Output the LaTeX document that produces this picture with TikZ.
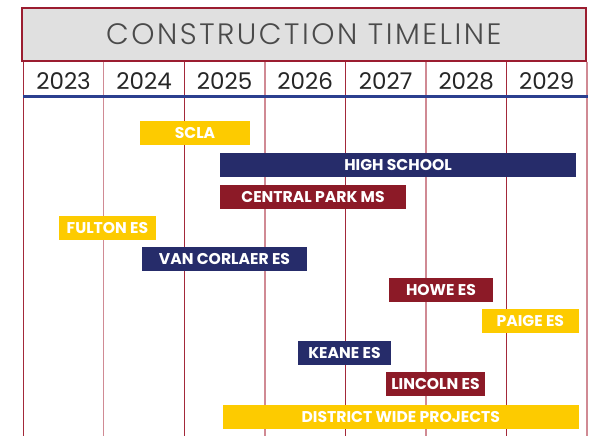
\documentclass[tikz,border=0pt]{standalone}
\usepackage{fontspec}
\setmainfont{Poppins}
\IfFontExistsTF{Poppins Light}{\newfontfamily\titlefont[LetterSpace=8.5]{Poppins Light}}{\newfontfamily\titlefont[LetterSpace=8.5]{Poppins}}
\definecolor{frame}{HTML}{9B1D30}
\definecolor{titlebg}{HTML}{E0E0E0}
\definecolor{titletext}{HTML}{4A4A4A}
\definecolor{gold}{HTML}{FDCB00}
\definecolor{navy}{HTML}{262C6A}
\definecolor{maroon}{HTML}{8C1A27}
\definecolor{rule}{HTML}{2B3F8F}
\definecolor{vdark}{HTML}{A3293A}
\definecolor{vlight}{HTML}{D08A94}
\begin{document}
\begin{tikzpicture}[x=1pt,y=-1pt,
  barbox/.style={minimum height=24pt,inner sep=0pt,anchor=center,text=white,
    font=\fontsize{15.6}{16}\selectfont\bfseries},
  yearlbl/.style={font=\fontsize{23}{24}\selectfont,text=black!85,anchor=center,inner sep=0pt},
  vline/.style={line width=1.3pt}]
\useasboundingbox (0,0) rectangle (590,436);
% vertical grid lines
\foreach \i/\c in {0/vdark,1/vlight,2/vdark,3/vlight,4/vdark,5/vlight,6/vdark,7/vlight}{
  \coordinate (vt\i) at ({23.3+80.53*\i},62);
  \coordinate (vb\i) at ({23.3+80.53*\i},436);
  \draw[vline,\c] (vt\i) -- (vb\i);
}
% title
\node[draw=frame,line width=2.3pt,fill=titlebg,minimum width=564.3pt,minimum height=52.7pt,inner sep=0pt,
  font=\fontsize{29.5}{32}\selectfont\titlefont,text=titletext] (title) at (303.85,34.35) {CONSTRUCTION TIMELINE};
% years
\foreach \y [count=\k from 0] in {2023,2024,2025,2026,2027,2028,2029}{
  \node[yearlbl] (y\y) at ({23.3+80.53*\k+40.27},81.5) {\y};
}
% blue rule
\coordinate (rl) at (23,96.5);
\coordinate (rr) at (587.5,96.5);
\draw[rule,line width=3pt] (rl) -- (rr);
% bars
\node[barbox,fill=gold,minimum width=110pt] (scla) at (195,133) {SCLA};
\node[barbox,fill=navy,minimum width=356pt] (hs) at (398,165) {HIGH SCHOOL};
\node[barbox,fill=maroon,minimum width=186pt] (cp) at (313,197) {CENTRAL PARK MS};
\node[barbox,fill=gold,minimum width=97pt] (fulton) at (107.5,228) {FULTON ES};
\node[barbox,fill=navy,minimum width=165pt] (van) at (224.5,259) {VAN CORLAER ES};
\node[barbox,fill=maroon,minimum width=104pt] (howe) at (441,290) {HOWE ES};
\node[barbox,fill=gold,minimum width=96.7pt] (paige) at (530.3,321) {PAIGE ES};
\node[barbox,fill=navy,minimum width=93pt] (keane) at (344.5,353) {KEANE ES};
\node[barbox,fill=maroon,minimum width=99pt] (lincoln) at (435.5,384) {LINCOLN ES};
\node[barbox,fill=gold,minimum width=355.7pt] (dw) at (400.8,417) {DISTRICT WIDE PROJECTS};
\end{tikzpicture}
\end{document}
